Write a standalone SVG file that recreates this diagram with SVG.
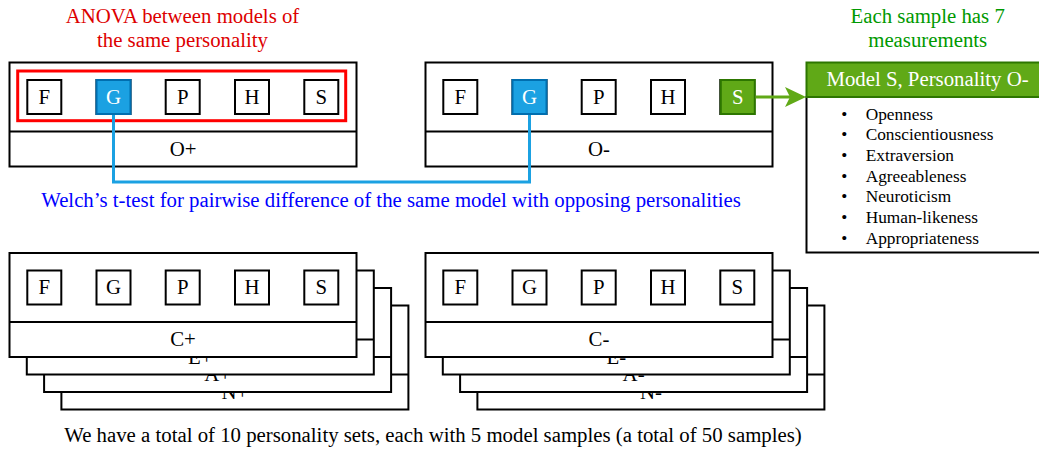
<svg xmlns="http://www.w3.org/2000/svg" width="1039" height="449" viewBox="0 0 1039 449">
  <style>
    text { font-family: "Liberation Serif", "Times New Roman", serif; font-size: 20.8px; }
    .mid { text-anchor: middle; }
    .panel { fill: #ffffff; stroke: #000000; stroke-width: 2; }
    .div { stroke: #000000; stroke-width: 2; }
    .box { fill: #ffffff; stroke: #000000; stroke-width: 2; }
    .blue { fill: #1ba1e2; stroke: #006eaf; stroke-width: 2; }
    .green { fill: #60a917; stroke: #2d7600; stroke-width: 2; }
    .wt { fill: #ffffff; }
    .list { font-size: 17.3px; }
  </style>
  <defs>
    <!-- one row of five model boxes, origin at panel top-left -->
    <g id="row">
      <rect class="box" x="17.8" y="17.5" width="34" height="34"/>
      <rect class="box" x="87" y="17.5" width="34" height="34"/>
      <rect class="box" x="156.2" y="17.5" width="34" height="34"/>
      <rect class="box" x="225.5" y="17.5" width="34" height="34"/>
      <rect class="box" x="294.8" y="17.5" width="34" height="34"/>
      <text class="mid" x="34.8" y="41.3">F</text>
      <text class="mid" x="104" y="41.3">G</text>
      <text class="mid" x="173.2" y="41.3">P</text>
      <text class="mid" x="242.5" y="41.3">H</text>
      <text class="mid" x="311.8" y="41.3">S</text>
    </g>
    <marker id="arrowGreen" viewBox="0 0 21 20" refX="6" refY="10" markerWidth="21" markerHeight="20" markerUnits="userSpaceOnUse" orient="auto">
      <path d="M0,0 L21,10 L0,20 L5,10 Z" fill="#60a917"/>
    </marker>
  </defs>

  <!-- headings -->
  <g id="anova-label" fill="#dd0000">
    <text class="mid" x="182.5" y="22.5">ANOVA between models of</text>
    <text class="mid" x="182.5" y="46.5">the same personality</text>
  </g>
  <g id="measure-label" fill="#009900">
    <text class="mid" x="927.7" y="22.5">Each sample has 7</text>
    <text class="mid" x="927.7" y="46.5">measurements</text>
  </g>

  <!-- O+ personality set -->
  <g id="set-o-plus">
    <rect class="panel" x="9.5" y="62.5" width="347" height="104"/>
    <line class="div" x1="9.5" y1="131.5" x2="356.5" y2="131.5"/>
    <use href="#row" x="9.5" y="62.5"/>
    <rect class="blue" x="96.5" y="80" width="34" height="34"/>
    <text class="mid wt" x="113.5" y="103.8">G</text>
    <text class="mid" x="183" y="155.8">O+</text>
    <rect id="anova-group" x="17.7" y="71" width="328" height="49.7" fill="none" stroke="#ff0000" stroke-width="3"/>
  </g>

  <!-- O- personality set -->
  <g id="set-o-minus">
    <rect class="panel" x="425.5" y="62.5" width="347" height="104"/>
    <line class="div" x1="425.5" y1="131.5" x2="772.5" y2="131.5"/>
    <use href="#row" x="425.5" y="62.5"/>
    <rect class="blue" x="512.5" y="80" width="34" height="34"/>
    <text class="mid wt" x="529.5" y="103.8">G</text>
    <rect class="green" x="720.8" y="80" width="34" height="34"/>
    <text class="mid wt" x="737.8" y="103.8">S</text>
    <text class="mid" x="599" y="155.8">O-</text>
  </g>

  <!-- sample detail card -->
  <g id="sample-card">
    <rect x="806.5" y="97" width="245" height="155.5" fill="#ffffff" stroke="#000000" stroke-width="2"/>
    <rect class="green" x="806.5" y="62.5" width="245" height="34.5"/>
    <text class="mid wt" x="927.5" y="86.3">Model S, Personality O-</text>
    <g class="list">
      <text class="list mid" x="844.3" y="119.5">•</text><text class="list" x="865.7" y="119.5">Openness</text>
      <text class="list mid" x="844.3" y="140.2">•</text><text class="list" x="865.7" y="140.2">Conscientiousness</text>
      <text class="list mid" x="844.3" y="160.8">•</text><text class="list" x="865.7" y="160.8">Extraversion</text>
      <text class="list mid" x="844.3" y="181.5">•</text><text class="list" x="865.7" y="181.5">Agreeableness</text>
      <text class="list mid" x="844.3" y="202.2">•</text><text class="list" x="865.7" y="202.2">Neuroticism</text>
      <text class="list mid" x="844.3" y="222.8">•</text><text class="list" x="865.7" y="222.8">Human-likeness</text>
      <text class="list mid" x="844.3" y="243.5">•</text><text class="list" x="865.7" y="243.5">Appropriateness</text>
    </g>
  </g>

  <!-- connectors -->
  <g id="connectors" fill="none">
    <path d="M113.5,115 V182 H529.5 V115" stroke="#1ba1e2" stroke-width="3"/>
    <line x1="755.8" y1="97" x2="791" y2="97" stroke="#60a917" stroke-width="3" marker-end="url(#arrowGreen)"/>
  </g>

  <text id="welch-label" class="mid" x="391" y="207.3" fill="#0000ff">Welch’s t-test for pairwise difference of the same model with opposing personalities</text>

  <!-- stacked positive sets, back to front -->
  <g id="set-n-plus">
    <rect class="panel" x="61.4" y="305.5" width="347" height="104"/>
    <line class="div" x1="61.4" y1="374.5" x2="408.4" y2="374.5"/>
    <text class="mid" x="234.9" y="398.8">N+</text>
  </g>
  <g id="set-a-plus">
    <rect class="panel" x="44.1" y="288" width="347" height="104"/>
    <line class="div" x1="44.1" y1="357" x2="391.1" y2="357"/>
    <text class="mid" x="217.6" y="381.3">A+</text>
  </g>
  <g id="set-e-plus">
    <rect class="panel" x="26.8" y="270.5" width="347" height="104"/>
    <line class="div" x1="26.8" y1="339.5" x2="373.8" y2="339.5"/>
    <text class="mid" x="200.3" y="363.8">E+</text>
  </g>
  <g id="set-c-plus">
    <rect class="panel" x="9.5" y="253" width="347" height="104"/>
    <line class="div" x1="9.5" y1="322" x2="356.5" y2="322"/>
    <use href="#row" x="9.5" y="253"/>
    <text class="mid" x="183" y="346.3">C+</text>
  </g>

  <!-- stacked negative sets, back to front -->
  <g id="set-n-minus">
    <rect class="panel" x="477.4" y="305.5" width="347" height="104"/>
    <line class="div" x1="477.4" y1="374.5" x2="824.4" y2="374.5"/>
    <text class="mid" x="650.9" y="398.8">N-</text>
  </g>
  <g id="set-a-minus">
    <rect class="panel" x="460.1" y="288" width="347" height="104"/>
    <line class="div" x1="460.1" y1="357" x2="807.1" y2="357"/>
    <text class="mid" x="633.6" y="381.3">A-</text>
  </g>
  <g id="set-e-minus">
    <rect class="panel" x="442.8" y="270.5" width="347" height="104"/>
    <line class="div" x1="442.8" y1="339.5" x2="789.8" y2="339.5"/>
    <text class="mid" x="616.3" y="363.8">E-</text>
  </g>
  <g id="set-c-minus">
    <rect class="panel" x="425.5" y="253" width="347" height="104"/>
    <line class="div" x1="425.5" y1="322" x2="772.5" y2="322"/>
    <use href="#row" x="425.5" y="253"/>
    <text class="mid" x="599" y="346.3">C-</text>
  </g>

  <text id="summary" class="mid" x="433" y="441.5">We have a total of 10 personality sets, each with 5 model samples (a total of 50 samples)</text>
</svg>
